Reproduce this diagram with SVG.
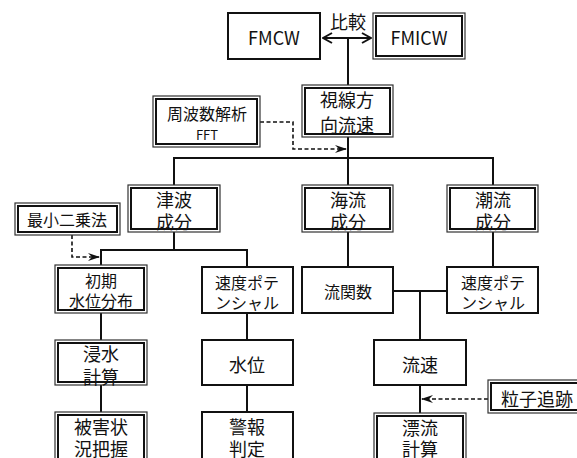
<svg xmlns="http://www.w3.org/2000/svg" width="577" height="458" viewBox="0 0 577 458">
<style>
text{font-family:"Noto Sans CJK JP","Noto Sans",sans-serif;fill:#111;text-anchor:middle;dominant-baseline:central}
.b{font-size:18px}
.m{font-size:16px}
.s{font-size:13px}
.single{fill:#fff;stroke:#111;stroke-width:2}
.outer{fill:#fff;stroke:#333;stroke-width:1.2}
.inner{fill:none;stroke:#111;stroke-width:2}
.ln{fill:none;stroke:#111;stroke-width:2}
.dash{fill:none;stroke:#111;stroke-width:1.6;stroke-dasharray:4 2.5}
</style>
<defs>
<marker id="dart" viewBox="0 0 12 8" refX="11" refY="4" markerWidth="12" markerHeight="8" markerUnits="userSpaceOnUse" orient="auto">
<path d="M0,0 L12,4 L0,8 L4,4 Z" fill="#111"/>
</marker>
<marker id="chev" viewBox="0 0 12 12" refX="11" refY="6" markerWidth="12" markerHeight="12" markerUnits="userSpaceOnUse" orient="auto-start-reverse">
<path d="M2,1 L11,6 L2,11" fill="none" stroke="#111" stroke-width="2"/>
</marker>
</defs>
<rect width="577" height="458" fill="#fff"/>
<g id="connectors">
<line class="ln" x1="323" y1="38" x2="371" y2="38" marker-start="url(#chev)" marker-end="url(#chev)"/>
<text class="b" x="348" y="21">比較</text>
<line class="ln" x1="348" y1="38" x2="348" y2="85"/>
<line class="ln" x1="348" y1="137" x2="348" y2="185"/>
<polyline class="ln" points="174,185 174,158 493,158 493,185"/>
<polyline class="dash" points="260,122 293,122 293,149 346,149" marker-end="url(#dart)"/>
<line class="ln" x1="174" y1="232" x2="174" y2="250"/>
<polyline class="ln" points="101,265 101,250 247,250 247,267"/>
<polyline class="dash" points="72,235 72,257 99,257" marker-end="url(#dart)"/>
<line class="ln" x1="348" y1="232" x2="348" y2="267"/>
<line class="ln" x1="493" y1="232" x2="493" y2="267"/>
<line class="ln" x1="393" y1="291" x2="447" y2="291"/>
<line class="ln" x1="420" y1="291" x2="420" y2="340"/>
<line class="ln" x1="101" y1="313" x2="101" y2="340"/>
<line class="ln" x1="247" y1="313" x2="247" y2="340"/>
<line class="ln" x1="101" y1="385" x2="101" y2="412"/>
<line class="ln" x1="247" y1="385" x2="247" y2="412"/>
<line class="ln" x1="420" y1="385" x2="420" y2="413"/>
<line class="dash" x1="488" y1="399" x2="422" y2="399" marker-end="url(#dart)"/>
</g>
<g id="fmcw">
<rect class="single" x="228" y="13" width="92" height="46"/>
<text class="b" x="274" y="37">FMCW</text>
</g>
<g id="fmicw">
<rect class="outer" x="373" y="13" width="92" height="46"/>
<rect class="inner" x="376" y="16" width="86" height="40"/>
<text class="b" x="419" y="37">FMICW</text>
</g>
<g id="los-velocity">
<rect class="outer" x="302" y="85" width="91" height="52"/>
<rect class="inner" x="305" y="88" width="85" height="46"/>
<text class="b" x="347" y="99">視線方</text>
<text class="b" x="347" y="124">向流速</text>
</g>
<g id="fft">
<rect class="outer" x="153" y="96" width="107" height="51"/>
<rect class="inner" x="156" y="99" width="101" height="45"/>
<text class="m" x="207" y="113">周波数解析</text>
<text class="s" x="207" y="134">FFT</text>
</g>
<g id="tsunami">
<rect class="outer" x="128" y="185" width="92" height="47"/>
<rect class="inner" x="131" y="188" width="86" height="41"/>
<text class="b" x="174" y="199">津波</text>
<text class="b" x="174" y="221">成分</text>
</g>
<g id="ocean-current">
<rect class="outer" x="302" y="185" width="91" height="47"/>
<rect class="inner" x="305" y="188" width="85" height="41"/>
<text class="b" x="348" y="199">海流</text>
<text class="b" x="348" y="221">成分</text>
</g>
<g id="tidal-current">
<rect class="outer" x="447" y="185" width="91" height="47"/>
<rect class="inner" x="450" y="188" width="85" height="41"/>
<text class="b" x="493" y="199">潮流</text>
<text class="b" x="493" y="221">成分</text>
</g>
<g id="least-squares">
<rect class="outer" x="15" y="203" width="105" height="32"/>
<rect class="inner" x="18" y="206" width="99" height="26"/>
<text class="m" x="67" y="219">最小二乗法</text>
</g>
<g id="initial-level">
<rect class="outer" x="55" y="265" width="92" height="48"/>
<rect class="inner" x="58" y="268" width="86" height="42"/>
<text class="m" x="101" y="280">初期</text>
<text class="m" x="101" y="300">水位分布</text>
</g>
<g id="velocity-potential-left">
<rect class="single" x="202" y="267" width="91" height="46"/>
<text class="m" x="247" y="282">速度ポテ</text>
<text class="m" x="247" y="302">ンシャル</text>
</g>
<g id="stream-function">
<rect class="single" x="302" y="267" width="91" height="46"/>
<text class="m" x="348" y="291">流関数</text>
</g>
<g id="velocity-potential-right">
<rect class="single" x="447" y="267" width="91" height="46"/>
<text class="m" x="493" y="282">速度ポテ</text>
<text class="m" x="493" y="302">ンシャル</text>
</g>
<g id="inundation">
<rect class="outer" x="55" y="340" width="92" height="45"/>
<rect class="inner" x="58" y="343" width="86" height="39"/>
<text class="b" x="101" y="353">浸水</text>
<text class="b" x="101" y="376">計算</text>
</g>
<g id="water-level">
<rect class="single" x="202" y="340" width="91" height="45"/>
<text class="b" x="247" y="364">水位</text>
</g>
<g id="flow-velocity">
<rect class="single" x="374" y="340" width="92" height="45"/>
<text class="b" x="420" y="364">流速</text>
</g>
<g id="particle-tracking">
<rect class="outer" x="488" y="380" width="95" height="33"/>
<rect class="inner" x="491" y="383" width="89" height="27"/>
<text class="b" x="537" y="398">粒子追跡</text>
</g>
<g id="damage">
<rect class="outer" x="55" y="412" width="92" height="52"/>
<rect class="inner" x="58" y="415" width="86" height="46"/>
<text class="b" x="101" y="426">被害状</text>
<text class="b" x="101" y="448">況把握</text>
</g>
<g id="warning">
<rect class="single" x="202" y="412" width="91" height="52"/>
<text class="b" x="247" y="426">警報</text>
<text class="b" x="247" y="448">判定</text>
</g>
<g id="drift">
<rect class="outer" x="374" y="413" width="92" height="52"/>
<rect class="inner" x="377" y="416" width="86" height="46"/>
<text class="b" x="420" y="427">漂流</text>
<text class="b" x="420" y="448">計算</text>
</g>
</svg>
